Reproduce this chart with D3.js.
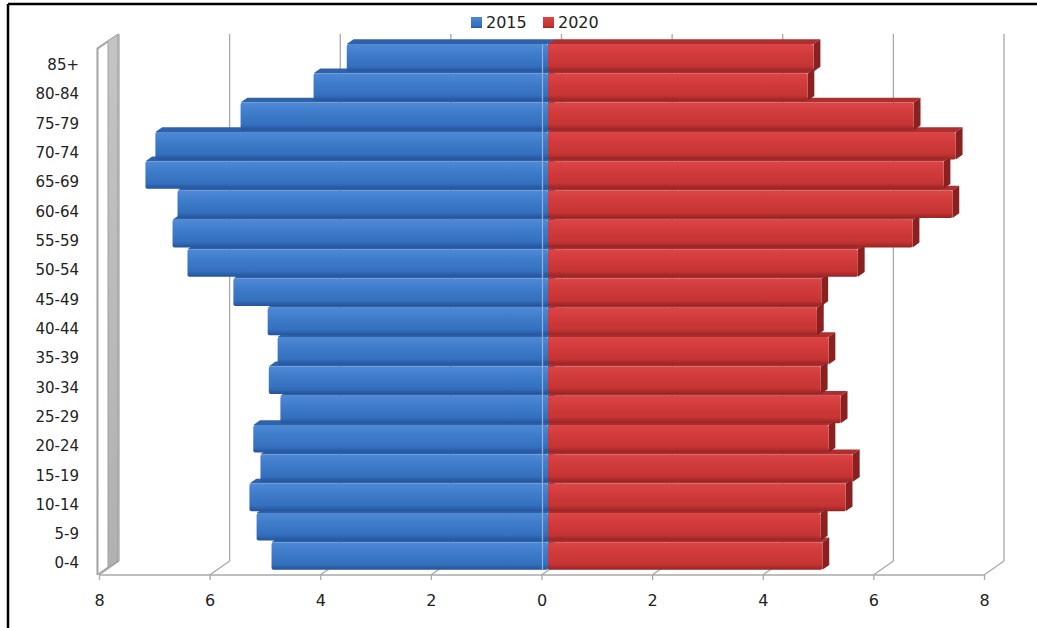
<!DOCTYPE html>
<html>
<head>
<meta charset="utf-8">
<script src="https://cdn.jsdelivr.net/npm/d3@7"></script>
<style>
  html, body { margin: 0; padding: 0; background: #fff; }
  svg { display: block; font-family: "DejaVu Sans", Verdana, sans-serif; }
</style>
</head>
<body>
<div id="chart"></div>
<script>
// age groups, bottom to top
const ageGroups = ["0-4", "5-9", "10-14", "15-19", "20-24", "25-29", "30-34", "35-39", "40-44",
  "45-49", "50-54", "55-59", "60-64", "65-69", "70-74", "75-79", "80-84", "85+"];
// percentage of population per group
const values2015 = [5.00, 5.27, 5.40, 5.20, 5.33, 4.84, 5.05, 4.89, 5.07,
  5.69, 6.52, 6.79, 6.70, 7.28, 7.10, 5.56, 4.24, 3.64];
const values2020 = [4.96, 4.93, 5.38, 5.51, 5.07, 5.29, 4.93, 5.07, 4.86,
  4.94, 5.60, 6.59, 7.31, 7.15, 7.37, 6.61, 4.69, 4.80];
const seriesNames = ["2015", "2020"];
const xTicks = [-8, -6, -4, -2, 0, 2, 4, 6, 8];

const width = 1037, height = 628;
const depth = { dx: 20, dy: -14 };   // front plane -> back wall offset
const barDepth = [0.33, 0.67];       // where bars sit between front and back

const svg = d3.select("#chart").append("svg")
  .attr("width", width)
  .attr("height", height);

const defs = svg.append("defs");
function grad(id, stops) {
  const g = defs.append("linearGradient").attr("id", id)
    .attr("x1", 0).attr("y1", 0).attr("x2", 0).attr("y2", 1);
  stops.forEach(s => g.append("stop").attr("offset", s[0]).attr("stop-color", s[1]));
}
grad("blueFront", [[0, "#4f8ad6"], [0.35, "#3f7cca"], [0.8, "#3470bd"], [1, "#24539a"]]);
grad("redFront", [[0, "#dc4646"], [0.35, "#d23b3b"], [0.8, "#c53434"], [1, "#962424"]]);
grad("wallGrad", [[0, "#c4c4c4"], [1, "#b0b0b0"]]);

const x = d3.scaleLinear().domain([-8, 8]).range([99, 984]);
const y = d3.scaleBand().domain(ageGroups).range([575, 48])
  .paddingInner(0.06).paddingOuter(0.02);

const yFloor = 575, yTop = 48;

// outer frame (black lines top and left)
svg.append("line").attr("x1", 8).attr("y1", 4).attr("x2", width).attr("y2", 4)
  .attr("stroke", "#000").attr("stroke-width", 2.5);
svg.append("line").attr("x1", 8).attr("y1", 4).attr("x2", 8).attr("y2", height)
  .attr("stroke", "#000").attr("stroke-width", 2.5);

// back wall gridlines and floor diagonals
const grid = svg.append("g").attr("stroke", "#a8a8a8").attr("stroke-width", 1.3).attr("fill", "none");
xTicks.forEach(t => {
  const xf = x(t), xb = x(t) + depth.dx;
  grid.append("line").attr("x1", xb).attr("y1", yTop + depth.dy)
    .attr("x2", xb).attr("y2", yFloor + depth.dy);
  grid.append("line").attr("x1", xf).attr("y1", yFloor)
    .attr("x2", xb).attr("y2", yFloor + depth.dy);
});

// left side wall (slab)
const wx = x(-8) - 2;
svg.append("polygon")
  .attr("points", [[wx, yTop], [wx + depth.dx + 1, yTop + depth.dy], [wx + depth.dx + 1, yFloor + depth.dy],
    [wx, yFloor]].map(p => p.join(",")).join(" "))
  .attr("fill", "url(#wallGrad)").attr("stroke", "#9a9a9a").attr("stroke-width", 1);
svg.append("polygon")
  .attr("points", [[wx + 1, yTop + 1], [wx + 11, yTop - 6], [wx + 11, yFloor - 8],
    [wx + 1, yFloor - 1]].map(p => p.join(",")).join(" "))
  .attr("fill", "#fff").attr("stroke", "#a0a0a0").attr("stroke-width", 1);

// front floor line
svg.append("line").attr("x1", x(-8)).attr("y1", yFloor).attr("x2", x(8)).attr("y2", yFloor)
  .attr("stroke", "#a8a8a8").attr("stroke-width", 1.3);

// bars
const ox = depth.dx * barDepth[0], oy = depth.dy * barDepth[0];
const bx = depth.dx * (barDepth[1] - barDepth[0]), by = depth.dy * (barDepth[1] - barDepth[0]);
const pts = arr => arr.map(p => p.join(",")).join(" ");

const bars = svg.append("g").attr("class", "bars");
ageGroups.forEach((age, i) => {
  const yt = y(age) + oy, yb = y(age) + y.bandwidth() + oy;
  [
    { v: -values2015[i], front: "url(#blueFront)", top: "#2f62a8", side: "#234d88" },
    { v: values2020[i], front: "url(#redFront)", top: "#ad2f2f", side: "#8a2020" }
  ].forEach(s => {
    const xa = x(Math.min(0, s.v)) + ox, xz = x(Math.max(0, s.v)) + ox;
    const g = bars.append("g");
    // top face
    g.append("polygon")
      .attr("points", pts([[xa, yt], [xz, yt], [xz + bx, yt + by], [xa + bx, yt + by]]))
      .attr("fill", s.top);
    // right end face
    g.append("polygon")
      .attr("points", pts([[xz, yt], [xz + bx, yt + by], [xz + bx, yb + by], [xz, yb]]))
      .attr("fill", s.side);
    // front face
    g.append("rect")
      .attr("x", xa).attr("y", yt)
      .attr("width", xz - xa).attr("height", yb - yt)
      .attr("rx", 2)
      .attr("fill", s.front);
  });
});

// faint line at zero through the bars
svg.append("line")
  .attr("x1", x(0) + 1).attr("x2", x(0) + 1)
  .attr("y1", y(ageGroups[ageGroups.length - 1]) + oy)
  .attr("y2", y(ageGroups[0]) + y.bandwidth() + oy)
  .attr("stroke", "#8fb0d8").attr("stroke-width", 1.2);

// bottom axis
const xAxis = svg.append("g")
  .attr("transform", `translate(0,${yFloor})`)
  .call(d3.axisBottom(x).tickValues(xTicks).tickFormat(d => Math.abs(d))
    .tickSize(5).tickPadding(15));
xAxis.select(".domain").remove();
xAxis.selectAll(".tick line").attr("stroke", "#a8a8a8").attr("stroke-width", 1.3);
xAxis.selectAll(".tick text").attr("font-size", 16).attr("fill", "#222")
  .attr("font-family", "DejaVu Sans, Verdana, sans-serif");

// category labels
const yAxis = svg.append("g")
  .attr("transform", "translate(79,3)")
  .call(d3.axisLeft(y).tickSize(0).tickPadding(0));
yAxis.select(".domain").remove();
yAxis.selectAll(".tick text").attr("font-size", 15).attr("fill", "#222")
  .attr("font-family", "DejaVu Sans, Verdana, sans-serif");

// legend
const legend = svg.append("g").attr("transform", "translate(471,16)");
const legendFills = ["url(#blueFront)", "url(#redFront)"];
const legendX = [0, 72];
seriesNames.forEach((name, i) => {
  const item = legend.append("g").attr("transform", `translate(${legendX[i]},0)`);
  item.append("rect").attr("width", 11).attr("height", 11).attr("y", 1)
    .attr("fill", legendFills[i]);
  item.append("text").attr("x", 15).attr("y", 12)
    .attr("font-size", 16).attr("fill", "#222").text(name);
});
</script>
</body>
</html>
